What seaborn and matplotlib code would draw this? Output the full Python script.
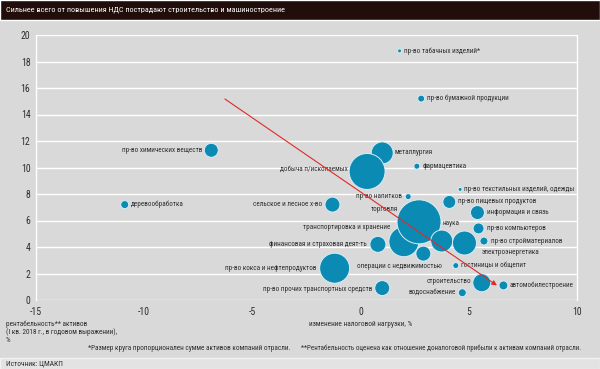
import numpy as np
import pandas as pd
import seaborn as sns
import matplotlib.pyplot as plt
from matplotlib import font_manager
from matplotlib.patches import Rectangle

# Data
sectors = [
    'пр-во табачных изделий*', 'пр-во бумажной продукции', 'пр-во химических веществ',
    'металлургия', 'добыча п/ископаемых', 'фармацевтика', 'пр-во напитков',
    'сельское и лесное х-во', 'деревообработка', 'транспортировка и хранение', 'торговля',
    'пр-во текстильных изделий, одежды', 'пр-во пищевых продуктов', 'информация и связь',
    'наука', 'пр-во компьютеров', 'пр-во стройматериалов', 'электроэнергетика',
    'финансовая и страховая деят-ть', 'операции с недвижимостью',
    'пр-во кокса и нефтепродуктов', 'пр-во прочих транспортных средств',
    'гостиницы и общепит', 'строительство', 'водоснабжение', 'автомобилестроение',
]
tax_change = [1.8, 2.8, -6.9, 1.0, 0.3, 2.6, 2.2, -1.3, -10.9, 2.0, 2.7,
              4.6, 4.1, 5.4, 3.75, 5.45, 5.7, 4.8, 0.8, 2.9,
              -1.2, 1.0, 4.4, 5.6, 4.7, 6.6]
profitability = [18.8, 15.2, 11.3, 11.1, 9.7, 10.1, 7.8, 7.2, 7.2, 4.4, 5.9,
                 8.35, 7.4, 6.6, 4.45, 5.4, 4.45, 4.3, 4.2, 3.5,
                 2.4, 0.9, 2.6, 1.3, 0.55, 1.1]
assets = [4, 12, 49, 121, 324, 9, 9, 56, 16, 225, 484,
          4, 42, 49, 121, 30, 16, 144, 64, 56,
          225, 56, 9, 81, 16, 20]

# label placement: (ha, dx, dy) in pixels from bubble centre
label_pos = {
    'пр-во табачных изделий*': ('left', 4, 0),
    'пр-во бумажной продукции': ('left', 6, 0),
    'пр-во химических веществ': ('right', -9, 0),
    'металлургия': ('left', 12, 0),
    'добыча п/ископаемых': ('right', -19, 2),
    'фармацевтика': ('left', 6, 0),
    'пр-во напитков': ('right', -6, 0),
    'сельское и лесное х-во': ('right', -10, 0),
    'деревообработка': ('left', 6, 0),
    'транспортировка и хранение': ('right', -14, 14),
    'торговля': ('right', -21, 12),
    'пр-во текстильных изделий, одежды': ('left', 4, 0),
    'пр-во пищевых продуктов': ('left', 9, 0),
    'информация и связь': ('left', 10, 0),
    'наука': ('left', 1, 18),
    'пр-во компьютеров': ('left', 8, 0),
    'пр-во стройматериалов': ('left', 7, 0),
    'электроэнергетика': ('left', 17, -9),
    'финансовая и страховая деят-ть': ('right', -11, 0),
    'операции с недвижимостью': ('right', 19, -13),
    'пр-во кокса и нефтепродуктов': ('right', -18, 0),
    'пр-во прочих транспортных средств': ('right', -10, -1),
    'гостиницы и общепит': ('left', 5, 0),
    'строительство': ('right', -11, 1),
    'водоснабжение': ('right', -6, 0),
    'автомобилестроение': ('left', 6, 0),
}

trend_x = [-6.27, 6.3]
trend_y = [15.17, 1.1]

df = pd.DataFrame({'sector': sectors, 'x': tax_change, 'y': profitability, 'assets': assets})

sns.set_style('white')

# reference uses a condensed face; use one if installed, else shrink Liberation Sans
installed = {f.name for f in font_manager.fontManager.ttflist}
k = 0.82
family = 'Liberation Sans'
for name in ['Liberation Sans Narrow', 'Roboto Condensed', 'Open Sans Condensed']:
    if name in installed:
        family, k = name, 1.0
        break
plt.rcParams['font.family'] = [family, 'DejaVu Sans']

bg = '#d9d9d9'
txt = '#2e2e2e'
fig = plt.figure(figsize=(6, 3.69), dpi=100, facecolor=bg)
ax = fig.add_axes([36 / 600, 69 / 369, 541 / 600, 265 / 369])
ax.set_facecolor(bg)

sns.scatterplot(data=df, x='x', y='y', size='assets', sizes=(0, 1003),
                size_norm=(0, 484), color='#0b8ab4', edgecolor='#d8eef5',
                linewidth=0.7, alpha=1, legend=False, ax=ax, zorder=3)

for s, x, y in zip(sectors, tax_change, profitability):
    ha, dx, dy = label_pos[s]
    ax.annotate(s, (x, y), xytext=(dx * 0.72, dy * 0.72), textcoords='offset points',
                ha=ha, va='center', fontsize=5.1 * k, color=txt, zorder=4)

ax.annotate('', xy=(trend_x[1], trend_y[1]), xytext=(trend_x[0], trend_y[0]),
            arrowprops=dict(arrowstyle='-|>', color='#e02a2a', lw=0.8,
                            mutation_scale=7, shrinkA=0, shrinkB=0), zorder=5)

ax.set_xlim(-15, 10)
ax.set_ylim(0, 20)
ax.set_xticks([-15, -10, -5, 0, 5, 10])
ax.set_yticks(range(0, 21, 2))
ax.set_xticklabels(['-15', '-10', '-5', '0', '5', '10'])
ax.grid(axis='y', color='white', lw=1.0)
ax.set_axisbelow(True)
for side in ['top', 'bottom']:
    ax.spines[side].set_visible(False)
for side in ['left', 'right']:
    ax.spines[side].set_color('white')
    ax.spines[side].set_linewidth(1.0)
ax.tick_params(length=0, labelsize=7 * k, labelcolor=txt)
ax.tick_params(axis='x', pad=5)
ax.tick_params(axis='y', pad=4)
ax.set_xlabel('')
ax.set_ylabel('')

# title bar and source bar
fig.patches.append(Rectangle((0, 1 - 20 / 369), 1, 20 / 369, transform=fig.transFigure,
                             facecolor='#210d09', zorder=0))
fig.patches.append(Rectangle((0, 0), 1, 11 / 369, transform=fig.transFigure,
                             facecolor='#e3e3e3', edgecolor='#f2f2f2', lw=1, zorder=0))
fig.text(6 / 600, 1 - 10 / 369, 'Сильнее всего от повышения НДС пострадают строительство и машиностроение',
         color='white', fontsize=5.9 * k, va='center', ha='left')
fig.text(6 / 600, 1 - 364 / 369, 'Источник: ЦМАКП', color=txt, fontsize=5.4 * k, va='center')

fig.text(6 / 600, 1 - 320 / 369, 'рентабельность** активов\n(I кв. 2018 г., в годовом выражении),\n%',
         color=txt, fontsize=5.2 * k, va='top', ha='left', linespacing=1.1)
fig.text(309 / 600, 1 - 325 / 369, 'изменение налоговой нагрузки, %', color=txt,
         fontsize=5.3 * k, va='center', ha='left')
fig.text(88 / 600, 1 - 348 / 369, '*Размер круга пропорционален сумме активов компаний отрасли.',
         color=txt, fontsize=5.2 * k, va='center', ha='left')
fig.text(301 / 600, 1 - 348 / 369,
         '**Рентабельность оценена как отношение доналоговой прибыли к активам компаний отрасли.',
         color=txt, fontsize=5.0 * k, va='center', ha='left')

fig.savefig('out.png', dpi=100, facecolor=bg)
